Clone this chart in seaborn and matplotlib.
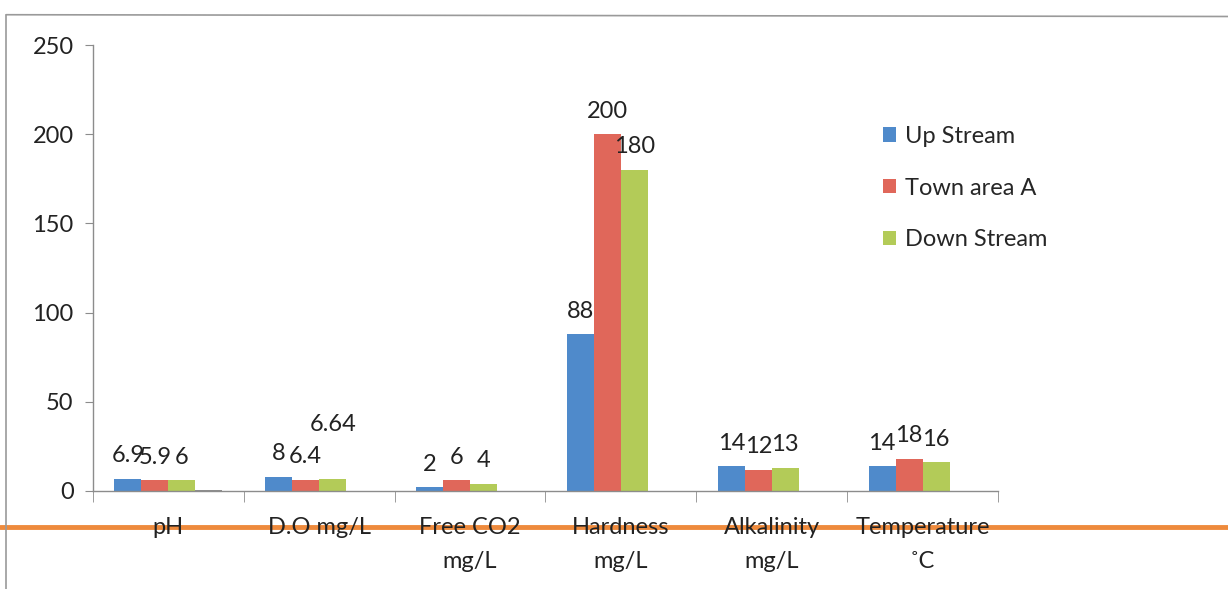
import numpy as np
import pandas as pd
import matplotlib.pyplot as plt
import seaborn as sns
from matplotlib.lines import Line2D

# values (data labels)
categories = ["pH", "D.O mg/L", "Free CO2\nmg/L", "Hardness\nmg/L",
              "Alkalinity\nmg/L", "Temperature\n\u02daC"]
up_stream = [6.9, 8, 2, 88, 14, 14]
town_area = [5.9, 6.4, 6, 200, 12, 18]
down_stream = [6, 6.64, 4, 180, 13, 16]
extra = [0.8, 0, 0, 0, 0, 0]   # small unlabeled 4th series next to pH
series = ["Up Stream", "Town area A", "Down Stream", "extra"]
colors = ["#4F8ACB", "#E0675A", "#B3CB58", "#8C8C8C"]

df = pd.DataFrame({
    "cat": categories * 4,
    "val": up_stream + town_area + down_stream + extra,
    "series": np.repeat(series, len(categories)),
})

sns.set_style("white")
plt.rcParams["font.family"] = ["Lato", "DejaVu Sans"]

fig = plt.figure(figsize=(12.28, 5.89), dpi=100)
ax = fig.add_axes([0.0757, 0.1664, 0.737, 0.757])

sns.barplot(data=df, x="cat", y="val", hue="series", hue_order=series,
            palette=colors, width=0.716, gap=0, saturation=1, ax=ax,
            errorbar=None, legend=True, linewidth=0)

ax.set_xlim(-0.5, 5.5)
ax.set_ylim(0, 250)
ax.set_yticks(range(0, 251, 50))
ax.set_xlabel("")
ax.set_ylabel("")
sns.despine(ax=ax)
for s in ["left", "bottom"]:
    ax.spines[s].set_color("#8C8C8C")
    ax.spines[s].set_linewidth(1)
ax.tick_params(axis="y", length=6, color="#8C8C8C", labelsize=17, pad=8,
               labelcolor="#222222", left=True)
ax.set_xticks(np.arange(-0.5, 6, 1), minor=True)
ax.tick_params(axis="x", which="minor", length=8, color="#8C8C8C", bottom=True)
ax.tick_params(axis="x", which="major", length=0, labelsize=17, pad=19,
               labelcolor="#222222")
for t in ax.get_xticklabels():
    t.set_linespacing(1.75)

# data labels
label_sets = [up_stream, town_area, down_stream]
for cont, vals in zip(ax.containers[:3], label_sets):
    texts = ax.bar_label(cont, labels=[f"{v:g}" for v in vals], padding=9,
                         fontsize=17, color="#222222")
    if vals is down_stream:
        texts[1].xyann = (0, 32)

handles, labels = ax.get_legend_handles_labels()
ax.legend(handles[:3], labels[:3], loc="upper left",
          bbox_to_anchor=(0.862, 0.84), frameon=False, fontsize=17,
          handlelength=0.55, handleheight=0.55, handletextpad=0.4,
          labelspacing=1.3, borderaxespad=0)

# page border and the orange scan line
fig.add_artist(Line2D([0.005, 1.0], [0.975, 0.972], color="#9A9A9A", lw=1.2))
fig.add_artist(Line2D([0.005, 0.005], [0.975, 0.0], color="#9A9A9A", lw=1.2))
fig.add_artist(Line2D([0.0, 1.0], [0.106, 0.106], color="#EE8A3C", lw=3.5,
                      zorder=-1))

fig.savefig("out.png", dpi=100)
